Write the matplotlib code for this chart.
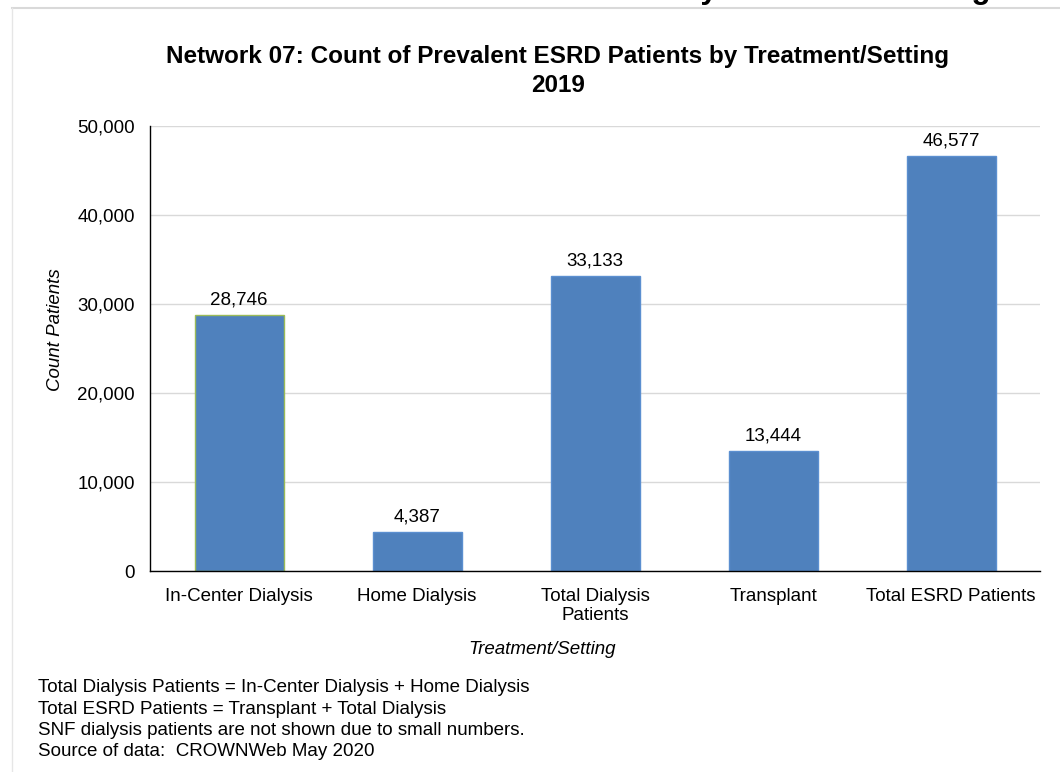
import matplotlib
matplotlib.use("Agg")
import matplotlib.pyplot as plt
from matplotlib.lines import Line2D
from matplotlib.ticker import FuncFormatter

plt.rcParams['font.family'] = ['Liberation Sans', 'DejaVu Sans']

categories = ["In-Center Dialysis", "Home Dialysis", "Total Dialysis\nPatients",
              "Transplant", "Total ESRD Patients"]
counts = [28746, 4387, 33133, 13444, 46577]
edge_colors = ["#9BBB59", "#5B8FD0", "#5B8FD0", "#5B8FD0", "#5B8FD0"]

notes = [
    "Total Dialysis Patients = In-Center Dialysis + Home Dialysis",
    "Total ESRD Patients = Transplant + Total Dialysis",
    "SNF dialysis patients are not shown due to small numbers.",
    "Source of data:  CROWNWeb May 2020",
]

W, H = 1060, 772
fig = plt.figure(figsize=(W / 100, H / 100), dpi=100)
ax = fig.add_axes([150 / W, 1 - 571 / H, 890 / W, 445 / H])

x = range(len(categories))
bars = ax.bar(x, counts, width=0.5, color="#4F81BD", edgecolor=edge_colors, linewidth=1)

ax.set_xlim(-0.5, len(categories) - 0.5)
ax.set_ylim(0, 50000)
ax.set_yticks(range(0, 50001, 10000))
ax.yaxis.set_major_formatter(FuncFormatter(lambda v, p: f"{int(v):,}"))
ax.set_xticks(list(x))
ax.set_xticklabels(categories, linespacing=1.2)
ax.tick_params(axis='both', length=0, labelsize=13.5, colors="#000000")
ax.tick_params(axis='x', pad=12)
ax.tick_params(axis='y', pad=11)
ax.grid(axis='y', color="#D9D9D9", linewidth=1)
ax.set_axisbelow(True)
for s in ["top", "right"]:
    ax.spines[s].set_visible(False)
for s in ["left", "bottom"]:
    ax.spines[s].set_color("#000000")
    ax.spines[s].set_linewidth(1)

for b, v in zip(bars, counts):
    ax.annotate(f"{v:,}", (b.get_x() + b.get_width() / 2, v), xytext=(0, 5),
                textcoords="offset points", ha="center", va="bottom", fontsize=13.5)

ax.set_ylabel("Count Patients", fontsize=13.5, style="italic", va="center")
ax.yaxis.set_label_coords(-(150 - 56) / 890, (571 - 330) / 445)
ax.set_xlabel("Treatment/Setting", fontsize=13.5, style="italic", va="center")
ax.xaxis.set_label_coords((542 - 150) / 890, -(650 - 571) / 445)

fig.text(558 / W, 1 - 56 / H, "Network 07: Count of Prevalent ESRD Patients by Treatment/Setting",
         ha="center", va="center", fontsize=17.5, fontweight="bold")
fig.text(558 / W, 1 - 86 / H, "2019", ha="center", va="center", fontsize=17.5, fontweight="bold")

for i, line in enumerate(notes):
    fig.text(38 / W, 1 - (688 + i * 21.3) / H, line, ha="left", va="center", fontsize=13.5)

# slide frame and cut-off slide heading above the chart
fig.add_artist(Line2D([12 / W, 1], [1 - 8 / H, 1 - 8 / H], color="#D9D9D9", linewidth=1.5))
fig.add_artist(Line2D([12 / W, 12 / W], [0, 1 - 8 / H], color="#E6E6E6", linewidth=1))
fig.text(990 / W, 1 + 2 / H, "Prevalent ESRD Patients by Treatment Setting",
         ha="right", va="baseline", fontsize=22.5, fontweight="bold")

fig.savefig("out.png", dpi=100)
